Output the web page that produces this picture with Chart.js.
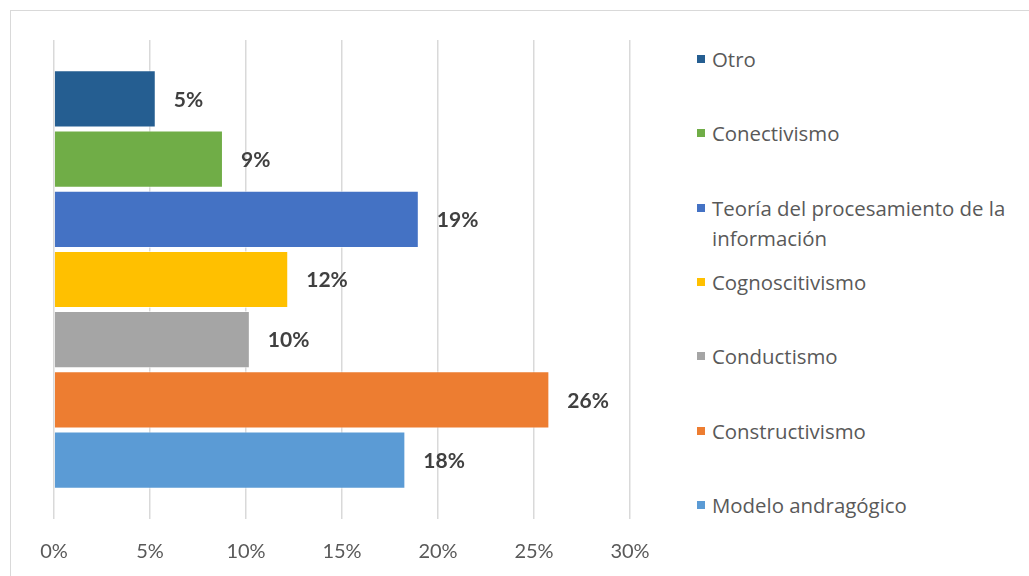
<!DOCTYPE html>
<html>
<head>
<meta charset="utf-8">
<script src="https://cdn.jsdelivr.net/npm/chart.js@4"></script>
<style>
  html, body { margin:0; padding:0; background:#fff; overflow:hidden; }
  body { width:1029px; height:576px; position:relative; font-family: "Open Sans", Lato, sans-serif; }
  #frame { position:absolute; left:10px; top:10px; width:1060px; height:620px; border:1.5px solid #d9d9d9; box-sizing:border-box; }
  #wrap { position:absolute; left:0; top:0; width:680px; height:599px; }
  #legend { position:absolute; left:697px; top:0; width:330px; }
  .leg-item { position:absolute; left:0; display:flex; align-items:flex-start; }
  .leg-box { width:8px; height:8px; margin-top:11px; margin-right:7px; flex:none; }
  .leg-text { font-size:20.4px; line-height:30px; color:#595959; width:315px; }
</style>
</head>
<body>
<div id="frame"></div>
<div id="wrap"><canvas id="chart"></canvas></div>
<div id="legend"></div>
<script>
// series, top to bottom as drawn
const seriesNames = ['Otro','Conectivismo','Teoría del procesamiento de la información','Cognoscitivismo','Conductismo','Constructivismo','Modelo andragógico'];
const seriesValues = [5.3, 8.8, 19.0, 12.2, 10.2, 25.8, 18.3];
const seriesColors = ['#255e91','#70ad47','#4472c4','#ffc000','#a5a5a5','#ed7d31','#5b9bd5'];
const tickValues = [0, 5, 10, 15, 20, 25, 30];

const datasets = seriesNames.map((name, i) => ({
  label: name,
  data: [seriesValues[i]],
  backgroundColor: seriesColors[i],
  borderColor: 'rgba(255,255,255,0.6)',
  borderWidth: 1,
  categoryPercentage: 0.88,
  barPercentage: 0.95
}));

// data labels at end of each bar
const valueLabels = {
  id: 'valueLabels',
  afterDatasetsDraw(chart){
    const ctx = chart.ctx;
    ctx.save();
    ctx.font = 'bold 21px Lato, "Open Sans", sans-serif';
    ctx.fillStyle = '#404040';
    ctx.textAlign = 'left';
    ctx.textBaseline = 'middle';
    chart.data.datasets.forEach((ds, i) => {
      const bar = chart.getDatasetMeta(i).data[0];
      ctx.fillText(Math.round(ds.data[0]) + '%', bar.x + 18, bar.y + 1);
    });
    ctx.restore();
  }
};

const chart = new Chart(document.getElementById('chart'), {
  type: 'bar',
  data: { labels: [''], datasets },
  options: {
    indexAxis: 'y',
    responsive: true,
    maintainAspectRatio: false,
    animation: false,
    layout: { padding: { left: 54, right: 50, top: 40, bottom: 14 } },
    plugins: { legend: { display: false }, tooltip: { enabled: false } },
    scales: {
      y: { display: false },
      x: {
        min: tickValues[0],
        max: tickValues[tickValues.length - 1],
        afterBuildTicks: axis => { axis.ticks = tickValues.map(v => ({ value: v })); },
        border: { display: false },
        grid: { color: '#d9d9d9', lineWidth: 1.5, drawTicks: false },
        ticks: {
          padding: 21,
          color: '#595959',
          font: { family: 'Lato, "Open Sans", sans-serif', size: 20 },
          callback: v => v + '%'
        }
      }
    }
  },
  plugins: [valueLabels]
});

// legend, first line of each entry on an even slot
const legendEl = document.getElementById('legend');
const LEG_TOP = 44, LEG_STEP = 74.3;
seriesNames.forEach((name, i) => {
  const item = document.createElement('div');
  item.className = 'leg-item';
  item.style.top = (LEG_TOP + i * LEG_STEP) + 'px';
  const box = document.createElement('span');
  box.className = 'leg-box';
  box.style.background = seriesColors[i];
  const txt = document.createElement('span');
  txt.className = 'leg-text';
  txt.textContent = name;
  item.appendChild(box);
  item.appendChild(txt);
  legendEl.appendChild(item);
});
</script>
</body>
</html>
